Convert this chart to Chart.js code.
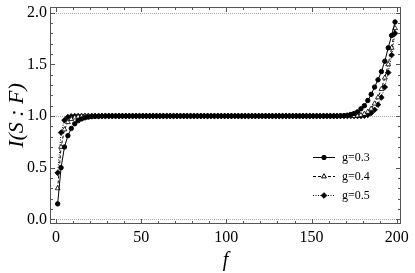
<!DOCTYPE html>
<html>
<head>
<meta charset="utf-8">
<script src="https://cdn.jsdelivr.net/npm/chart.js@4.4.0/dist/chart.umd.min.js"></script>
<style>
  body { margin: 0; background: #fff; }
  canvas { display: block; }
</style>
</head>
<body>
<canvas id="mainChart" width="415" height="273"></canvas>
<script>
const fValues = [
  1, 3, 5, 7, 9, 11, 13, 15, 17, 19,
  21, 23, 25, 27, 29, 31, 33, 35, 37, 39,
  41, 43, 45, 47, 49, 51, 53, 55, 57, 59,
  61, 63, 65, 67, 69, 71, 73, 75, 77, 79,
  81, 83, 85, 87, 89, 91, 93, 95, 97, 99,
  101, 103, 105, 107, 109, 111, 113, 115, 117, 119,
  121, 123, 125, 127, 129, 131, 133, 135, 137, 139,
  141, 143, 145, 147, 149, 151, 153, 155, 157, 159,
  161, 163, 165, 167, 169, 171, 173, 175, 177, 179,
  181, 183, 185, 187, 189, 191, 193, 195, 197, 199
];

const g03 = [
  0.15, 0.50, 0.70, 0.81, 0.88, 0.925, 0.955, 0.972, 0.983, 0.99,
  0.994, 0.997, 0.998, 0.999, 1, 1, 1, 1, 1, 1,
  1, 1, 1, 1, 1, 1, 1, 1, 1, 1,
  1, 1, 1, 1, 1, 1, 1, 1, 1, 1,
  1, 1, 1, 1, 1, 1, 1, 1, 1, 1,
  1, 1, 1, 1, 1, 1, 1, 1, 1, 1,
  1, 1, 1, 1, 1, 1, 1, 1, 1, 1,
  1, 1, 1, 1, 1, 1, 1, 1, 1, 1,
  1, 1, 1, 1.002, 1.004, 1.008, 1.015, 1.025, 1.04, 1.07,
  1.10, 1.15, 1.21, 1.28, 1.35, 1.43, 1.53, 1.66, 1.78, 1.91
];

const g04 = [
  0.30, 0.70, 0.87, 0.94, 0.97, 0.985, 0.993, 0.997, 0.999, 1,
  1, 1, 1, 1, 1, 1, 1, 1, 1, 1,
  1, 1, 1, 1, 1, 1, 1, 1, 1, 1,
  1, 1, 1, 1, 1, 1, 1, 1, 1, 1,
  1, 1, 1, 1, 1, 1, 1, 1, 1, 1,
  1, 1, 1, 1, 1, 1, 1, 1, 1, 1,
  1, 1, 1, 1, 1, 1, 1, 1, 1, 1,
  1, 1, 1, 1, 1, 1, 1, 1, 1, 1,
  1, 1, 1, 1, 1, 1, 1, 1, 1.003, 1.008,
  1.02, 1.04, 1.07, 1.12, 1.18, 1.26, 1.37, 1.50, 1.66, 1.85
];

const g05 = [
  0.45, 0.84, 0.96, 0.99, 0.997, 1, 1, 1, 1, 1,
  1, 1, 1, 1, 1, 1, 1, 1, 1, 1,
  1, 1, 1, 1, 1, 1, 1, 1, 1, 1,
  1, 1, 1, 1, 1, 1, 1, 1, 1, 1,
  1, 1, 1, 1, 1, 1, 1, 1, 1, 1,
  1, 1, 1, 1, 1, 1, 1, 1, 1, 1,
  1, 1, 1, 1, 1, 1, 1, 1, 1, 1,
  1, 1, 1, 1, 1, 1, 1, 1, 1, 1,
  1, 1, 1, 1, 1, 1, 1, 1, 1, 1,
  1.003, 1.01, 1.03, 1.06, 1.11, 1.18, 1.28, 1.42, 1.59, 1.80
];

const seriesLabels = ["g=0.3", "g=0.4", "g=0.5"];

const xTicks = [0, 50, 100, 150, 200];
const xMinorTicks = [0, 10, 20, 30, 40, 50, 60, 70, 80, 90, 100, 110, 120, 130, 140, 150, 160, 170, 180, 190, 200];
const yTicks = [0, 0.5, 1, 1.5, 2];
const yMinorTicks = [0, 0.1, 0.2, 0.3, 0.4, 0.5, 0.6, 0.7, 0.8, 0.9, 1, 1.1, 1.2, 1.3, 1.4, 1.5, 1.6, 1.7, 1.8, 1.9, 2];
const refLines = [0, 1, 2];

const serif = "'Liberation Serif', 'DejaVu Serif', serif";

function toPoints(values) {
  return fValues.map((f, i) => ({ x: f, y: values[i] }));
}

// frame, inward ticks and dotted reference lines
const framePlugin = {
  id: 'frame',
  beforeDatasetsDraw(chart) {
    const { ctx, chartArea: a, scales: { y } } = chart;
    ctx.save();
    ctx.strokeStyle = '#aaa';
    ctx.lineWidth = 1;
    ctx.setLineDash([1, 1]);
    refLines.forEach(v => {
      const py = Math.round(y.getPixelForValue(v)) + 0.5;
      ctx.beginPath();
      ctx.moveTo(a.left, py);
      ctx.lineTo(a.right, py);
      ctx.stroke();
    });
    ctx.restore();
  },
  afterDatasetsDraw(chart) {
    const { ctx, chartArea: a, scales: { x, y } } = chart;
    ctx.save();
    ctx.strokeStyle = '#555';
    ctx.lineWidth = 1;
    ctx.setLineDash([]);
    ctx.strokeRect(a.left + 0.5, a.top + 0.5, a.right - a.left - 1, a.bottom - a.top - 1);
    ctx.beginPath();
    xMinorTicks.forEach(v => {
      const px = Math.round(x.getPixelForValue(v)) + 0.5;
      const len = xTicks.includes(v) ? 5 : 3;
      ctx.moveTo(px, a.bottom); ctx.lineTo(px, a.bottom - len);
      ctx.moveTo(px, a.top); ctx.lineTo(px, a.top + len);
    });
    yMinorTicks.forEach(v => {
      const py = Math.round(y.getPixelForValue(v)) + 0.5;
      const len = yTicks.includes(v) ? 5 : 3;
      ctx.moveTo(a.left, py); ctx.lineTo(a.left + len, py);
      ctx.moveTo(a.right, py); ctx.lineTo(a.right - len, py);
    });
    ctx.stroke();
    ctx.restore();
  },
  afterDraw(chart) {
    const ctx = chart.ctx;
    ctx.save();
    chart.data.datasets.forEach((ds, i) => {
      const ly = 157 + i * 19;
      ctx.strokeStyle = '#000';
      ctx.lineWidth = 1;
      ctx.setLineDash(ds.borderDash || []);
      ctx.beginPath();
      ctx.moveTo(313, ly + 0.5);
      ctx.lineTo(335, ly + 0.5);
      ctx.stroke();
      ctx.setLineDash([]);
      ctx.fillStyle = ds.pointBackgroundColor;
      ctx.strokeStyle = '#000';
      ctx.lineWidth = 1;
      Chart.helpers.drawPoint(ctx, {
        pointStyle: ds.pointStyle, radius: ds.pointRadius, borderWidth: 1, rotation: 0
      }, 324, ly + 0.5);
      ctx.fillStyle = '#000';
      ctx.font = "12px " + serif;
      ctx.textBaseline = 'middle';
      ctx.fillText(ds.label, 342, ly + 1);
    });
    ctx.restore();
  }
};

new Chart(document.getElementById('mainChart'), {
  type: 'scatter',
  data: {
    datasets: [
      {
        label: seriesLabels[0],
        data: toPoints(g03),
        showLine: true,
        borderColor: '#000',
        borderWidth: 1,
        pointStyle: 'circle',
        pointRadius: 2.2,
        pointBackgroundColor: '#000',
        pointBorderColor: '#000',
        pointBorderWidth: 1
      },
      {
        label: seriesLabels[1],
        data: toPoints(g04),
        showLine: true,
        borderColor: '#000',
        borderWidth: 1,
        borderDash: [3, 2],
        pointStyle: 'triangle',
        pointRadius: 2.8,
        pointBackgroundColor: '#fff',
        pointBorderColor: '#000',
        pointBorderWidth: 0.8
      },
      {
        label: seriesLabels[2],
        data: toPoints(g05),
        showLine: true,
        borderColor: '#000',
        borderWidth: 1,
        borderDash: [1, 1.5],
        pointStyle: 'rectRot',
        pointRadius: 2.8,
        pointBackgroundColor: '#000',
        pointBorderColor: '#000',
        pointBorderWidth: 0.8
      }
    ]
  },
  options: {
    responsive: false,
    animation: false,
    devicePixelRatio: 1,
    layout: { padding: { top: 7, right: 14, left: 0, bottom: 0 } },
    plugins: {
      legend: { display: false },
      tooltip: { enabled: false }
    },
    scales: {
      x: {
        type: 'linear',
        min: -3.5,
        max: 202.5,
        afterBuildTicks: s => { s.ticks = xTicks.map(v => ({ value: v })); },
        afterFit: s => { s.height = 49; s.paddingLeft = 0; s.paddingRight = 0; },
        grid: { display: false, drawTicks: false },
        border: { display: false },
        ticks: {
          color: '#000',
          padding: 4,
          maxRotation: 0,
          font: { family: serif, size: 16 },
          callback: v => String(v)
        },
        title: {
          display: true,
          text: 'f',
          color: '#000',
          font: { family: serif, size: 20, style: 'italic' },
          padding: { top: 0, bottom: 0 }
        }
      },
      y: {
        type: 'linear',
        min: -0.045,
        max: 2.055,
        afterBuildTicks: s => { s.ticks = yTicks.map(v => ({ value: v })); },
        afterFit: s => { s.width = 50; s.paddingTop = 0; s.paddingBottom = 0; },
        grid: { display: false, drawTicks: false },
        border: { display: false },
        ticks: {
          color: '#000',
          padding: 3,
          font: { family: serif, size: 16 },
          callback: v => v.toFixed(1)
        },
        title: {
          display: true,
          text: 'I(S : F)',
          color: '#000',
          font: { family: serif, size: 22, style: 'italic' },
          padding: { top: 4, bottom: 0 }
        }
      }
    }
  },
  plugins: [framePlugin]
});
</script>
</body>
</html>
